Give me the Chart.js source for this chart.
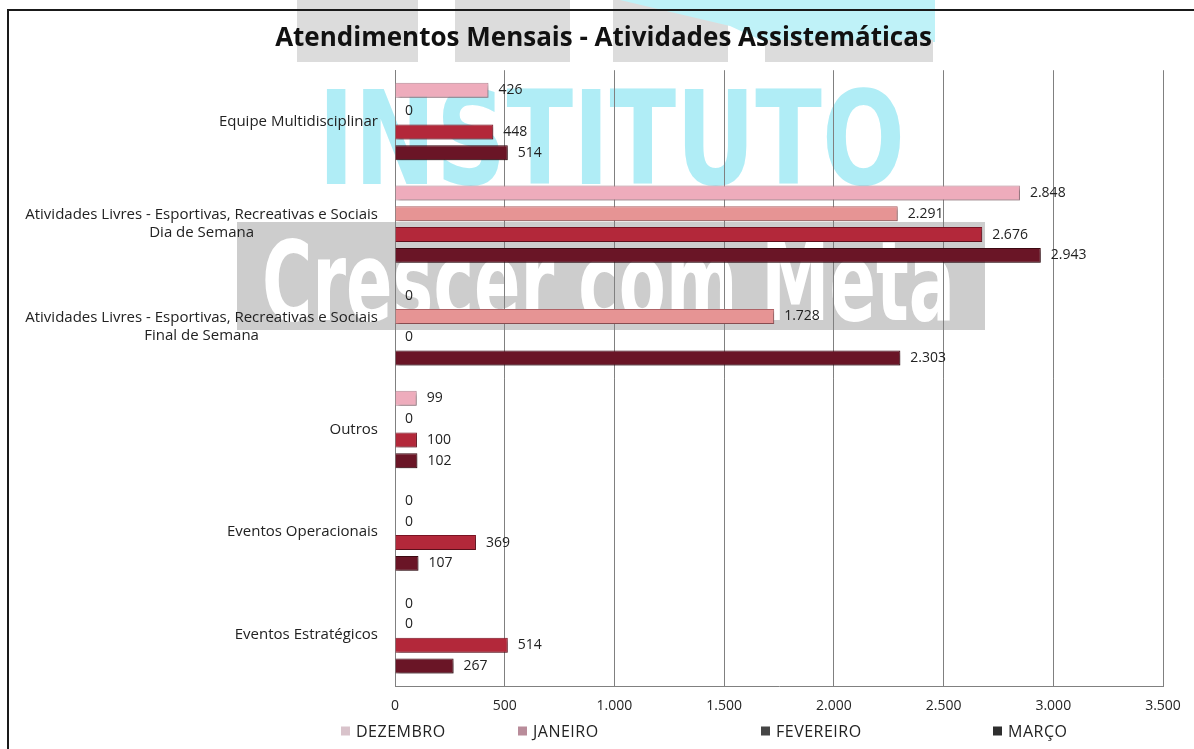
<!DOCTYPE html>
<html lang="pt-BR">
<head>
<meta charset="utf-8">
<title>Atendimentos Mensais - Atividades Assistemáticas</title>
<script src="https://cdn.jsdelivr.net/npm/chart.js@4.4.1/dist/chart.umd.min.js"></script>
<style>
  html, body { margin: 0; padding: 0; background: #fff; }
  #wrap { position: relative; width: 1194px; height: 749px; }
</style>
</head>
<body>
<div id="wrap"><canvas id="grafico" width="1194" height="749"></canvas></div>
<script>
// dados
const categorias = [
    'Equipe Multidisciplinar',
    ['Atividades Livres - Esportivas, Recreativas e Sociais', 'Dia de Semana'],
    ['Atividades Livres - Esportivas, Recreativas e Sociais', 'Final de Semana'],
    'Outros',
    'Eventos Operacionais',
    'Eventos Estratégicos'
];
const meses = ['DEZEMBRO', 'JANEIRO', 'FEVEREIRO', 'MARÇO'];
const dezembro = [426, 2848, 0, 99, 0, 0];
const janeiro = [0, 2291, 1728, 0, 0, 0];
const fevereiro = [448, 2676, 0, 100, 369, 514];
const marco = [514, 2943, 2303, 102, 107, 267];
const eixoX = [0, 500, 1000, 1500, 2000, 2500, 3000, 3500];

// estilos
const coresBarra = ['#eeacbc', '#e69494', '#b3283a', '#6a1526'];
const coresBorda = ['#b88a98', '#b06468', '#7a1424', '#3c0a12'];
const coresLegenda = ['#d9c3cb', '#b98c9a', '#454545', '#2e2e2e'];
const posLegenda = [341, 518, 761, 993];
const FONTE = '"Open Sans", "DejaVu Sans", sans-serif';

function fmt(n) {
    return String(n).replace(/\B(?=(\d{3})+(?!\d))/g, '.');
}

// marca d'água do instituto + moldura
const marcaDagua = {
    id: 'marcaDagua',
    beforeDraw(chart) {
        const ctx = chart.ctx;
        ctx.save();
        ctx.fillStyle = '#dcdcdc';
        [[297, 418], [455, 570], [613, 728]].forEach(([a, b]) => ctx.fillRect(a, 0, b - a, 62));
        ctx.fillStyle = '#bff2f8';
        ctx.beginPath();
        ctx.moveTo(620, 0); ctx.lineTo(935, 0); ctx.lineTo(935, 42);
        ctx.lineTo(765, 42); ctx.lineTo(730, 26); ctx.closePath();
        ctx.fill();
        ctx.fillStyle = '#dcdcdc';
        ctx.fillRect(765, 40, 168, 22);

        ctx.fillStyle = '#b0edf6';
        ctx.font = 'bold 130px "DejaVu Sans", "Liberation Sans", sans-serif';
        ctx.textBaseline = 'alphabetic';
        ctx.textAlign = 'left';
        ctx.fillText('INSTITUTO', 318, 184, 587);

        ctx.fillStyle = '#cdcdcd';
        ctx.fillRect(237, 222, 748, 108);
        ctx.fillStyle = '#ffffff';
        ctx.font = 'bold 110px "Liberation Sans Narrow", "DejaVu Sans Condensed", sans-serif';
        ctx.fillText('Crescer com Meta', 262, 320, 693);

        ctx.strokeStyle = '#1a1a1a';
        ctx.lineWidth = 2;
        ctx.beginPath();
        ctx.moveTo(8, 749); ctx.lineTo(8, 10); ctx.lineTo(1194, 10);
        ctx.stroke();
        ctx.restore();
    }
};

// sombra nas barras e rótulos de valor
const rotulos = {
    id: 'rotulos',
    beforeDatasetsDraw(chart) {
        const ctx = chart.ctx;
        ctx.save();
        ctx.shadowColor = 'rgba(0,0,0,0.35)';
        ctx.shadowOffsetX = 2;
        ctx.shadowOffsetY = 2;
        ctx.shadowBlur = 3;
    },
    afterDatasetsDraw(chart) {
        const ctx = chart.ctx;
        ctx.restore();
        ctx.save();
        ctx.font = '14px ' + FONTE;
        ctx.fillStyle = '#222';
        ctx.textAlign = 'left';
        ctx.textBaseline = 'middle';
        chart.data.datasets.forEach((ds, i) => {
            chart.getDatasetMeta(i).data.forEach((bar, j) => {
                ctx.fillText(fmt(ds.data[j]), bar.x + 10, bar.y);
            });
        });
        ctx.restore();
    }
};

// rótulos das categorias (linhas centradas, bloco alinhado à direita) e legenda
const textosExtra = {
    id: 'textosExtra',
    afterDraw(chart) {
        const ctx = chart.ctx;
        const y = chart.scales.y;
        ctx.save();
        ctx.font = '15px ' + FONTE;
        ctx.fillStyle = '#222';
        ctx.textBaseline = 'middle';
        ctx.textAlign = 'center';
        const direita = y.right - 17;
        categorias.forEach((cat, i) => {
            const linhas = Array.isArray(cat) ? cat : [cat];
            const larg = Math.max(...linhas.map(l => ctx.measureText(l).width));
            const cx = direita - larg / 2;
            const cy = y.getPixelForValue(i);
            linhas.forEach((l, k) => ctx.fillText(l, cx, cy + (k - (linhas.length - 1) / 2) * 18));
        });

        ctx.font = '16px ' + FONTE;
        ctx.letterSpacing = '0.5px';
        ctx.textAlign = 'left';
        const caixa = 9, folga = 6;
        const ly = 731;
        chart.data.datasets.forEach((ds, i) => {
            const x = posLegenda[i];
            ctx.fillStyle = coresLegenda[i];
            ctx.fillRect(x, ly - caixa / 2, caixa, caixa);
            ctx.fillStyle = '#222';
            ctx.fillText(ds.label, x + caixa + folga, ly + 1);
        });
        ctx.restore();
    }
};

const series = [dezembro, janeiro, fevereiro, marco];

new Chart(document.getElementById('grafico'), {
    type: 'bar',
    data: {
        labels: categorias,
        datasets: series.map((valores, i) => ({
            label: meses[i],
            data: valores,
            backgroundColor: coresBarra[i],
            borderColor: coresBorda[i],
            borderWidth: 1,
            barPercentage: 0.72,
            categoryPercentage: 0.81
        }))
    },
    options: {
        indexAxis: 'y',
        responsive: false,
        animation: false,
        layout: { padding: { left: 44, right: 31, top: 0, bottom: 24 } },
        plugins: {
            legend: { display: false },
            tooltip: { enabled: false },
            title: {
                display: true,
                text: 'Atendimentos Mensais - Atividades Assistemáticas',
                color: '#111',
                font: { family: FONTE, size: 26, weight: 'bold' },
                padding: { top: 23, bottom: 16 }
            }
        },
        scales: {
            x: {
                min: eixoX[0],
                max: eixoX[eixoX.length - 1],
                afterBuildTicks: s => { s.ticks = eixoX.map(v => ({ value: v })); },
                grid: { color: '#808080', drawTicks: false },
                border: { color: '#808080' },
                ticks: {
                    padding: 11,
                    color: '#262626',
                    font: { family: FONTE, size: 14 },
                    callback: v => fmt(v)
                }
            },
            y: {
                grid: { display: false },
                border: { color: '#808080' },
                ticks: { display: false },
                afterFit: s => { s.width = 351; }
            }
        }
    },
    plugins: [marcaDagua, rotulos, textosExtra]
});
</script>
</body>
</html>
